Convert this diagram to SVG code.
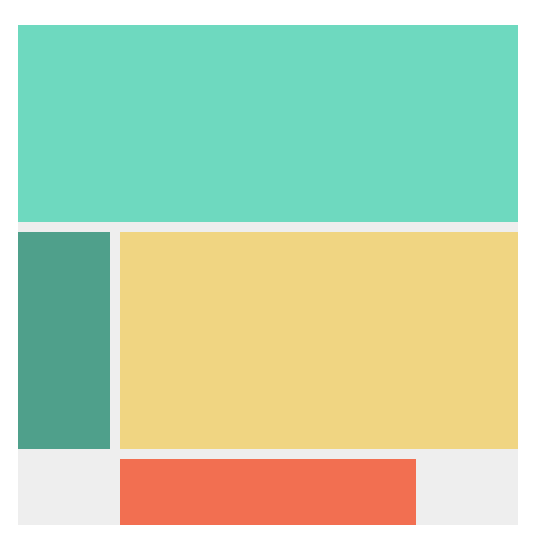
<svg xmlns="http://www.w3.org/2000/svg" width="535" height="543" viewBox="0 0 535 543">
<style>.bg{fill:#eeeeee}</style>
<rect width="535" height="543" fill="#ffffff"/>
<g id="container"><rect class="bg" x="18" y="25" width="500" height="500"/></g>
<g id="top"><rect x="18" y="25" width="500" height="197" fill="#6ed9bf"/></g>
<g id="left"><rect x="18" y="232" width="92" height="217" fill="#4fa08b"/></g>
<g id="main"><rect x="120" y="232" width="398" height="217" fill="#f0d582"/></g>
<g id="bottom"><rect x="120" y="459" width="296" height="66" fill="#f26f51"/></g>
<g id="connectors"/>
</svg>
